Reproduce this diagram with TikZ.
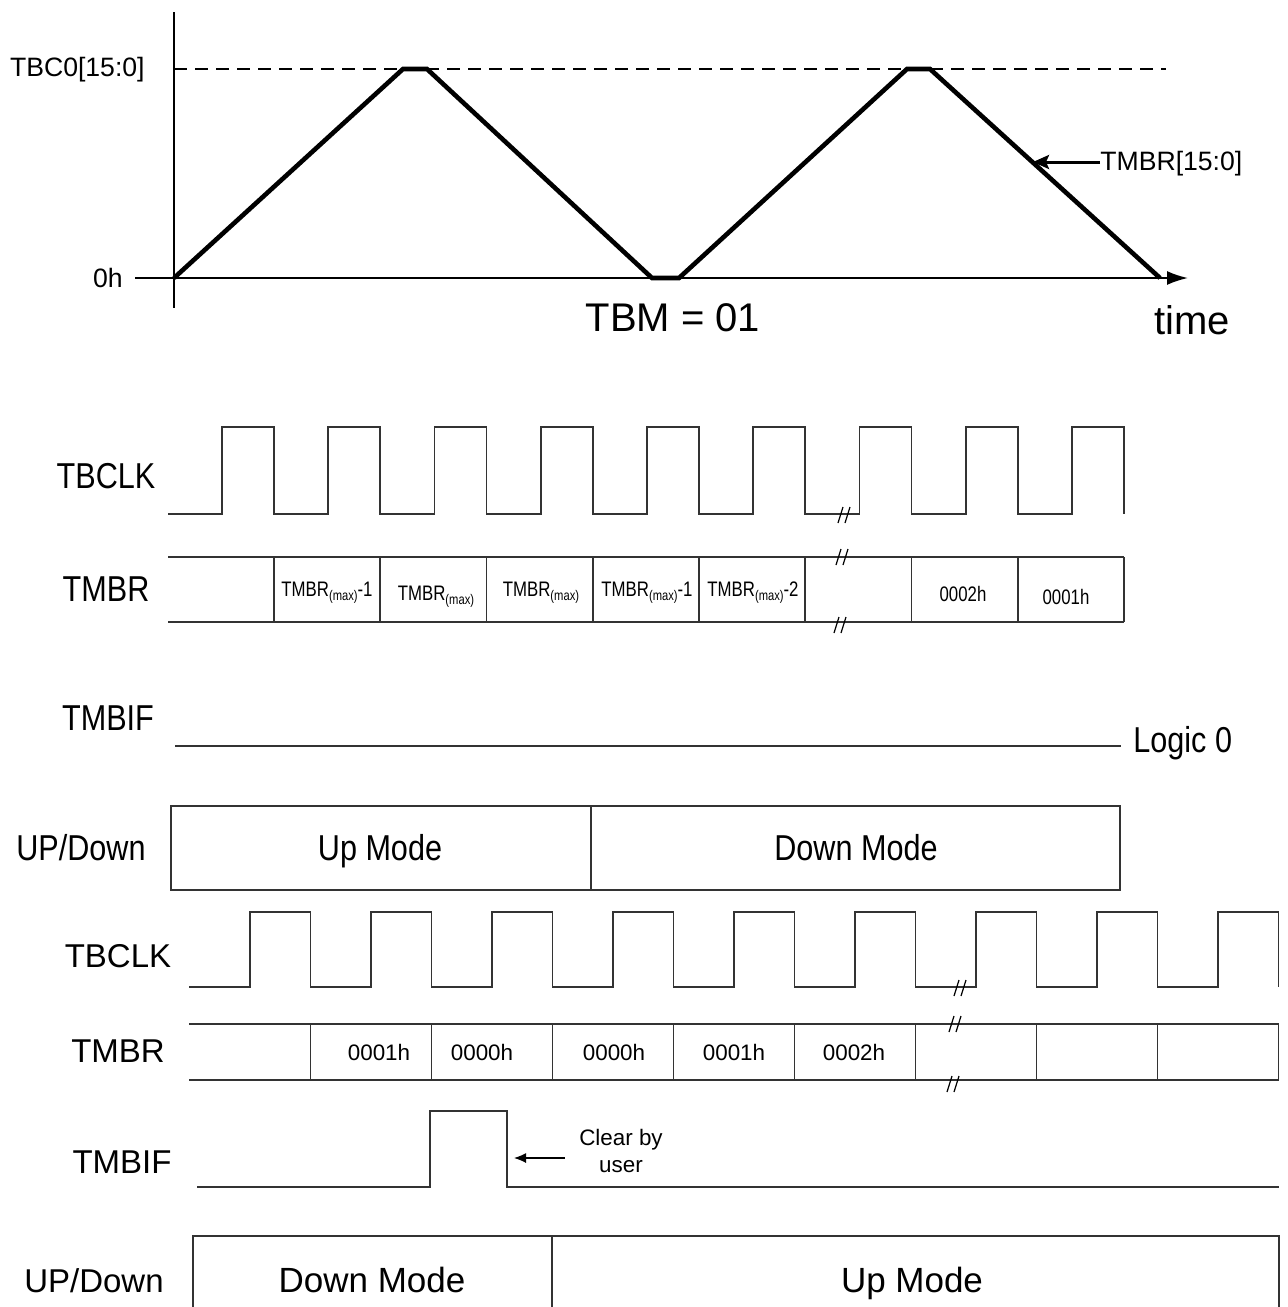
\documentclass[tikz,border=0pt]{standalone}
\usepackage{fontspec}
\setmainfont{Liberation Sans}
\newfontfamily\narrowsans[FakeStretch=0.85]{Liberation Sans}
\newfontfamily\cellsans[FakeStretch=0.8]{Liberation Sans}
\usetikzlibrary{arrows.meta,positioning}
\newcommand{\tmbrmax}{TMBR\raisebox{-0.4ex}{\fontsize{7}{7}\selectfont(max)}}

\tikzset{
  brkmark/.pic={
    \draw[line width=0.6pt] (-6,8) -- (-1,-8);
    \draw[line width=0.6pt] (1,8) -- (6,-8);
  }
}

\begin{document}
\begin{tikzpicture}[
  x=0.5pt, y=-0.5pt,
  axis/.style={line width=1pt},
  ramp/.style={line width=2.3pt, line join=miter},
  wave/.style={line width=0.85pt, draw=black!80},
  sigtop/.style={font=\narrowsans\fontsize{18}{20}\selectfont, inner sep=0pt},
  sigbot/.style={font=\fontsize{16.5}{19}\selectfont, inner sep=0pt},
  celltop/.style={font=\cellsans\fontsize{10.5}{12}\selectfont, inner sep=0pt},
  cellbot/.style={font=\fontsize{11.2}{13}\selectfont, inner sep=0pt},
  graphlbl/.style={font=\fontsize{13.3}{15}\selectfont, inner sep=0pt},
  biglbl/.style={font=\fontsize{20}{22}\selectfont, inner sep=0pt},
  pointer/.style={-{Stealth[length=8pt, width=7pt, inset=1.5pt]}, line width=1.5pt}
]
\fill[white] (0,0) rectangle (1288,1307);
\useasboundingbox (0,0) rectangle (1288,1307);

% counter graph
\coordinate (origin) at (174,278);
\coordinate (ytop) at (174,12);
\coordinate (ybot) at (174,308);
\coordinate (xstart) at (135,278);
\coordinate (xend) at (1188,278);
\draw[axis] (ytop) -- (ybot);
\draw[axis, -{Latex[length=10.5pt, width=7pt]}] (xstart) -- (xend);
\draw[axis, dash pattern=on 6.5pt off 4pt] (174,69) -- (1166,69);
\draw[ramp] (origin) -- (403,69) -- (427,69) -- (652,278) -- (679,278)
  -- (907,69) -- (930,69) -- (1160,278);

\node[graphlbl, anchor=base east] (maxlbl) at (145,76) {TBC0[15:0]};
\node[graphlbl, anchor=base east] (zerolbl) at (123,287) {0h};
\node[graphlbl, anchor=base west] (cntlbl) at (1100,170) {TMBR[15:0]};
\coordinate (rampmark) at (1033,162);
\draw[pointer] (cntlbl.west |- rampmark) -- (rampmark);
\node[biglbl] (modelbl) at (673,318) {TBM = 01};
\node[biglbl] (timelbl) at (1192,320) {time};

% first case: counting up
\node[sigtop] (clkA) at (106,476) {TBCLK};
\node[sigtop] (cntA) at (106,589) {TMBR};
\node[sigtop] (flagA) at (108,718) {TMBIF};
\node[sigtop] (dirA) at (81,848) {UP/Down};

\draw[wave] (168,514) \foreach \k in {0,...,8} {
  -- ({222+106.25*\k},514) -- ({222+106.25*\k},427)
  -- ({274+106.25*\k},427) -- ({274+106.25*\k},514) };
\pic at (844,515) {brkmark};

\draw[wave] (168,557) -- (1124,557);
\draw[wave] (168,622) -- (1124,622);
\foreach \k in {0,...,8}
  \draw[wave] ({274+106.25*\k},557) -- ({274+106.25*\k},622);
\pic at (842,557) {brkmark};
\pic at (840,625) {brkmark};

\node[celltop, anchor=base] (a1) at (327,596) {\tmbrmax-1};
\node[celltop, anchor=base] (a2) at (436,600) {\tmbrmax};
\node[celltop, anchor=base] (a3) at (541,596) {\tmbrmax};
\node[celltop, anchor=base] (a4) at (647,596) {\tmbrmax-1};
\node[celltop, anchor=base] (a5) at (753,596) {\tmbrmax-2};
\node[celltop, anchor=base] (a7) at (963,601) {0002h};
\node[celltop, anchor=base] (a8) at (1066,604) {0001h};

\coordinate (flagAstart) at (175,746);
\coordinate (flagAend) at (1121,746);
\draw[wave] (flagAstart) -- (flagAend);
\node[sigtop, anchor=base west] (logic) at (1133,752) {Logic 0};

\draw[wave] (171,806) rectangle (1120,890);
\draw[wave] (591,806) -- (591,890);
\node[sigtop, anchor=base] (upA) at (380,860) {Up Mode};
\node[sigtop, anchor=base] (downA) at (856,860) {Down Mode};

% second case: counting down
\node[sigbot] (clkB) at (118,956) {TBCLK};
\node[sigbot] (cntB) at (118,1051) {TMBR};
\node[sigbot] (flagB) at (122,1162) {TMBIF};
\node[sigbot] (dirB) at (94,1281) {UP/Down};

\draw[wave] (189,987) \foreach \k in {0,...,8} {
  -- ({250+121*\k},987) -- ({250+121*\k},912)
  -- ({310.5+121*\k},912) -- ({310.5+121*\k},987) };
\pic at (960,988) {brkmark};

\draw[wave] (189,1024) -- (1279,1024);
\draw[wave] (189,1080) -- (1279,1080);
\foreach \k in {0,...,8}
  \draw[wave] ({310.5+121*\k},1024) -- ({310.5+121*\k},1080);
\pic at (955,1024) {brkmark};
\pic at (953,1084) {brkmark};

\node[cellbot] (b1) at (379,1052) {0001h};
\node[cellbot] (b2) at (482,1052) {0000h};
\node[cellbot] (b3) at (614,1052) {0000h};
\node[cellbot] (b4) at (734,1052) {0001h};
\node[cellbot] (b5) at (854,1052) {0002h};

\draw[wave] (197,1187) -- (430,1187) -- (430,1111) -- (507,1111)
  -- (507,1187) -- (1279,1187);
\node[cellbot, align=center, font=\fontsize{11.2}{13.5}\selectfont] (clearnote) at (621,1151) {Clear by\\user};
\coordinate (cleartip) at (514,1158);
\draw[-{Latex[length=6pt, width=5pt]}, line width=0.6pt] ([xshift=-7pt]clearnote.west |- cleartip) -- (cleartip);

\draw[wave] (193,1307) -- (193,1236) -- (1279,1236) -- (1279,1307);
\draw[wave] (552,1236) -- (552,1307);
\node[sigbot, anchor=base, font=\fontsize{17.5}{20}\selectfont] (downB) at (372,1292) {Down Mode};
\node[sigbot, anchor=base, font=\fontsize{17.5}{20}\selectfont] (upB) at (912,1292) {Up Mode};
\end{tikzpicture}
\end{document}
